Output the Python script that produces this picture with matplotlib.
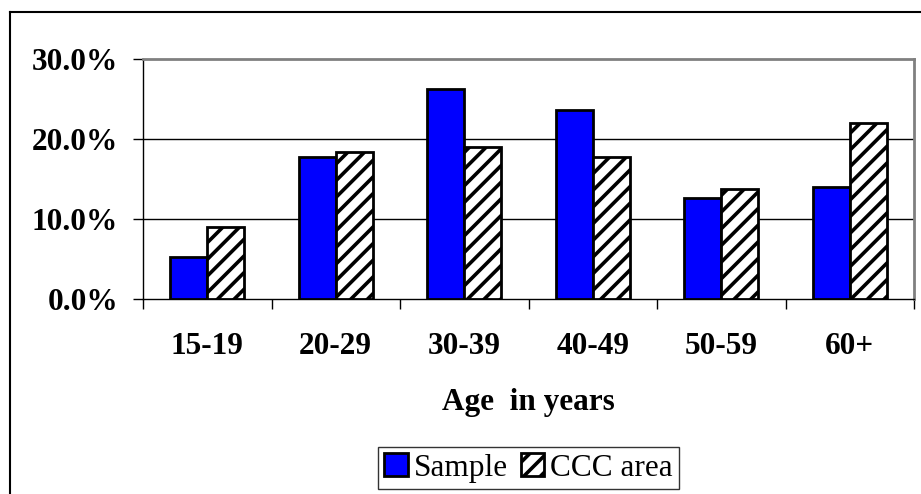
import numpy as np
import matplotlib
matplotlib.use("Agg")
import matplotlib.pyplot as plt
from matplotlib.lines import Line2D

# age groups and shares (%)
age_groups = ["15-19", "20-29", "30-39", "40-49", "50-59", "60+"]
sample_pct = [5.3, 17.8, 26.3, 23.6, 12.6, 14.0]
ccc_pct = [9.0, 18.4, 19.0, 17.7, 13.7, 22.0]
series_names = ["Sample", "CCC area"]
y_ticks = [0, 10, 20, 30]

plt.rcParams['font.family'] = ['Liberation Serif', 'DejaVu Serif']
plt.rcParams['hatch.linewidth'] = 2.6
plt.rcParams['hatch.color'] = '#444444'

fs = 22.5
fig = plt.figure(figsize=(9.21, 4.94), dpi=100)
ax = fig.add_axes([143/921, 1-299/494, (914-143)/921, (299-59)/494])

x = np.arange(len(age_groups))
w = 0.288
ax.bar(x - w/2, sample_pct, width=w, color='#0000ff', edgecolor='black',
       linewidth=2, zorder=3, label=series_names[0])
ax.bar(x + w/2, ccc_pct, width=w, color='white', edgecolor='black',
       linewidth=2, hatch='//', zorder=3, label=series_names[1])

ax.set_xlim(-0.5, len(age_groups) - 0.5)
ax.set_ylim(0, 30)

# gridlines
for v in y_ticks[1:-1]:
    ax.axhline(v, color='black', linewidth=1.0, zorder=1)

ax.set_yticks(y_ticks)
ax.set_yticklabels([f"{v:.1f}%" for v in y_ticks], fontsize=fs, fontweight='bold')
ax.tick_params(axis='y', direction='out', length=7, width=1, pad=11)

# ticks between categories, labels at the centres
ax.set_xticks(np.arange(len(age_groups) + 1) - 0.5)
ax.set_xticklabels([])
ax.tick_params(axis='x', which='major', direction='out', length=7, width=1)
ax.set_xticks(x, minor=True)
ax.set_xticklabels(age_groups, minor=True, fontsize=fs, fontweight='bold')
ax.tick_params(axis='x', which='minor', length=0, pad=24)

ax.set_xlabel("Age  in years", fontsize=fs, fontweight='bold', labelpad=19)

for s in ['top', 'right']:
    ax.spines[s].set_color('#808080')
    ax.spines[s].set_linewidth(2)
for s in ['left', 'bottom']:
    ax.spines[s].set_color('black')
    ax.spines[s].set_linewidth(1)

leg = fig.legend(loc='center', bbox_to_anchor=(528.5/921, 1-468/494), ncol=2,
                 fontsize=fs, frameon=True, fancybox=False, handlelength=0.75,
                 handleheight=0.75, handletextpad=0.2, columnspacing=0.4,
                 borderpad=0.2, borderaxespad=0)
leg.get_frame().set_edgecolor('black')
leg.get_frame().set_linewidth(1)

# outer chart border (left and top visible)
fig.add_artist(Line2D([10/921, 10/921], [0, 1-12/494], color='black', linewidth=1.5,
                      transform=fig.transFigure))
fig.add_artist(Line2D([10/921, 1], [1-12/494, 1-12/494], color='black', linewidth=1.5,
                      transform=fig.transFigure))

fig.savefig("out.png", dpi=100)
